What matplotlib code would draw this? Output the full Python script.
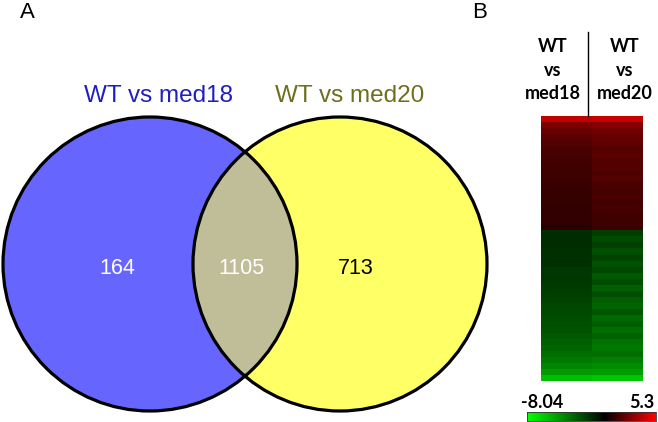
import numpy as np
import matplotlib
matplotlib.use("Agg")
import matplotlib.pyplot as plt
from matplotlib.patches import Circle
from matplotlib.colors import LinearSegmentedColormap, TwoSlopeNorm

# ---- data ----
set_labels = ["WT vs med18", "WT vs med20"]
only_med18 = 164
shared = 1105
only_med20 = 713

column_labels = ["WT\nvs\nmed18", "WT\nvs\nmed20"]
# log2 fold-change per row block (top: up-regulated, bottom: down-regulated)
fc_med18 = [4.0, 2.6, 2.2, 1.9, 1.7, 1.55, 1.45, 1.4, 1.35, 1.3, 1.25, 1.2, 1.15, 1.1, 1.1, 1.05, 1.0, 1.0, 0.95,
            -1.4, -1.4, -1.4, -1.45, -1.45, -1.5, -1.7, -1.75, -1.8, -1.85, -1.9, -2.1, -2.2, -2.3, -2.4,
            -2.5, -2.6, -2.8, -3.0, -3.2, -3.5, -3.8, -4.2, -4.8, -6.0]
fc_med20 = [4.1, 2.8, 2.4, 2.1, 2.0, 1.8, 1.9, 1.7, 1.75, 1.6, 1.7, 1.5, 1.45, 1.55, 1.4, 1.45, 1.35, 1.3, 1.25,
            -1.9, -2.3, -2.0, -2.5, -2.1, -2.6, -2.2, -2.8, -2.4, -3.0, -2.5, -2.9, -3.2, -2.7, -3.3,
            -2.9, -3.5, -3.1, -3.6, -3.8, -3.5, -4.0, -4.4, -4.9, -6.2]
scale_min = -8.04
scale_max = 5.3

# ---- figure ----
W, H = 658, 422
fig = plt.figure(figsize=(W / 100, H / 100), dpi=100)
ax = fig.add_axes([0, 0, 1, 1])
ax.set_xlim(0, W)
ax.set_ylim(H, 0)
ax.set_aspect("auto")
ax.axis("off")

# Venn
r = 147
c1 = (150, 264)
c2 = (340, 264)
left = Circle(c1, r, facecolor="#6666FF", edgecolor="none", zorder=1)
right = Circle(c2, r, facecolor="#FFFF66", edgecolor="none", zorder=1)
ax.add_patch(left)
ax.add_patch(right)
clip = Circle(c2, r, transform=ax.transData, facecolor="none", edgecolor="none")
ax.add_patch(clip)
ov = Circle(c1, r, facecolor="#C0BE98", edgecolor="none", zorder=2)
ax.add_patch(ov)
ov.set_clip_path(clip)
ax.add_patch(Circle(c1, r, facecolor="none", edgecolor="black", lw=2.3, zorder=3))
ax.add_patch(Circle(c2, r, facecolor="none", edgecolor="black", lw=2.3, zorder=3))

sans = "Liberation Sans"
ax.text(158, 96, set_labels[0], color="#1F1FC0", fontsize=17.5, family=sans, ha="center", va="center")
ax.text(350, 96, set_labels[1], color="#6E6E1E", fontsize=17.5, family=sans, ha="center", va="center")
ax.text(117, 268, str(only_med18), color="white", fontsize=15.5, family=sans, ha="center", va="center", zorder=4)
ax.text(241, 268, str(shared), color="white", fontsize=15.5, family=sans, ha="center", va="center", zorder=4)
ax.text(356, 268, str(only_med20), color="black", fontsize=15.5, family=sans, ha="center", va="center", zorder=4)
ax.text(27, 13, "A", color="black", fontsize=16, family=sans, ha="center", va="center")
ax.text(480, 13, "B", color="black", fontsize=16, family=sans, ha="center", va="center")

# Heatmap
cmap = LinearSegmentedColormap.from_list("gbr", ["#00FF00", "#000000", "#FF0000"])
norm = TwoSlopeNorm(vmin=scale_min, vcenter=0, vmax=scale_max)
mat = np.column_stack([fc_med18, fc_med20])
ax.imshow(mat, cmap=cmap, norm=norm, extent=(541, 643, 381, 116), aspect="auto",
          interpolation="nearest", zorder=2)

bold = "Lato"
ax.text(553, 70, column_labels[0], fontsize=13, family=bold, weight="bold", ha="center", va="center",
        linespacing=1.45)
ax.text(625, 70, column_labels[1], fontsize=13, family=bold, weight="bold", ha="center", va="center",
        linespacing=1.45)
ax.plot([588, 588], [32, 116], color="black", lw=1, zorder=3)

# colour scale
grad = np.linspace(scale_min, scale_max, 256)[None, :]
ax.imshow(grad, cmap=cmap, norm=norm, extent=(527, 656, 421, 412), aspect="auto", zorder=2)
ax.plot([527, 656, 656, 527, 527], [412, 412, 421, 421, 412], color="#333333", lw=0.6, zorder=3)
ax.text(521, 402, f"{scale_min:.2f}", fontsize=13, family=bold, weight="bold", ha="left", va="center")
ax.text(654, 402, f"{scale_max:g}", fontsize=13, family=bold, weight="bold", ha="right", va="center")

ax.set_xlim(0, W)
ax.set_ylim(H, 0)
fig.savefig("out.png", dpi=100)
